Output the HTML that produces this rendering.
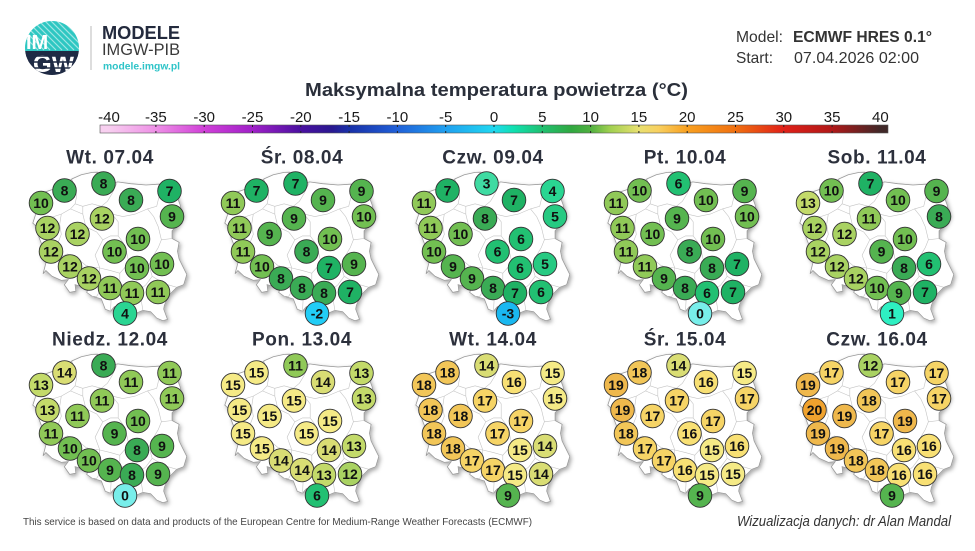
<!DOCTYPE html>
<html><head><meta charset="utf-8"><style>
html,body{margin:0;padding:0;background:#fff;}
svg{display:block;}
svg text{font-family:"Liberation Sans",sans-serif;}
.n text{font-weight:bold;font-size:14px;text-anchor:middle;fill:#111;}
.n circle{stroke:#333;stroke-width:0.9;}
.n text.ttl{font-size:19px;letter-spacing:0.6px;fill:#2c303c;}
.m3{fill:#1ab8f0}.m2{fill:#22cdf6}.t0{fill:#78eeea}.t1{fill:#2eefc2}.t3{fill:#3fdba2}.t4{fill:#2ad592}
.t5{fill:#27ca82}.t6{fill:#22c072}.t7{fill:#1fb264}.t8{fill:#3aab55}.t9{fill:#55b44f}.t10{fill:#72bf52}
.t11{fill:#90c958}.t12{fill:#a9d262}.t13{fill:#c3da6a}.t14{fill:#d9dd74}.t15{fill:#f5ea86}.t16{fill:#f8e074}
.t17{fill:#f6d466}.t18{fill:#f2c658}.t19{fill:#efb84c}.t20{fill:#f0a22e}
.cbl{font-size:15px;text-anchor:middle;fill:#1a1a1a;}
</style></head><body>
<svg width="975" height="551" viewBox="0 0 975 551" xmlns="http://www.w3.org/2000/svg">
<defs>
<filter id="sh" x="-10%" y="-10%" width="130%" height="130%"><feDropShadow dx="1.5" dy="2" stdDeviation="2" flood-color="#000" flood-opacity="0.35"/></filter>
<linearGradient id="cb" gradientUnits="userSpaceOnUse" x1="107.6" y1="0" x2="880.4" y2="0">
<stop offset="0" stop-color="#f8d0f0"/><stop offset="0.0625" stop-color="#ee90e6"/><stop offset="0.125" stop-color="#d040d8"/>
<stop offset="0.1875" stop-color="#a020c8"/><stop offset="0.25" stop-color="#4a10a0"/><stop offset="0.29" stop-color="#2a1890"/>
<stop offset="0.3125" stop-color="#1830a8"/><stop offset="0.375" stop-color="#2060d8"/><stop offset="0.4375" stop-color="#20a0f0"/>
<stop offset="0.5" stop-color="#20d8f0"/><stop offset="0.525" stop-color="#10e0b0"/><stop offset="0.5625" stop-color="#20c070"/>
<stop offset="0.6" stop-color="#30a840"/><stop offset="0.625" stop-color="#50b040"/><stop offset="0.65" stop-color="#a0d050"/>
<stop offset="0.6875" stop-color="#e8e070"/><stop offset="0.7125" stop-color="#f8d060"/><stop offset="0.75" stop-color="#f8a020"/>
<stop offset="0.8125" stop-color="#f07010"/><stop offset="0.875" stop-color="#e02018"/><stop offset="0.9375" stop-color="#b01818"/>
<stop offset="1" stop-color="#402828"/></linearGradient>
<clipPath id="lc"><circle cx="52" cy="48" r="27"/></clipPath>
<g id="pl">
<polygon filter="url(#sh)" fill="#fff" stroke="#9a9a9a" stroke-width="0.8" points="33.5,195.6 44.3,192.2 53.6,189.1 64.3,185.8 72,178.9 81.3,174.7 92.1,172.4 97.5,172.2 100.5,176.8 102.1,183.2 107.5,185 117.5,181.9 130.6,183.7 146,185 158.3,184.2 165.7,184.2 170.6,185.8 176.8,189.6 176.3,194.8 179.8,203.8 182.9,215.3 179.1,223.1 172.1,230.8 172.1,238.5 179.1,242.3 177.5,251.3 179.1,259 182.9,266.7 186.8,274.5 183.7,284.7 176.8,287.3 169.1,295 164.4,305.3 163.7,309.1 167.5,319.4 162.9,320.7 156.7,318.1 150.6,311.7 142.9,310.4 136.7,313 132.1,311.7 127.5,311.7 123.6,316.9 119.8,316.9 119,311.7 114.4,306.6 110.5,311.2 105.2,309.2 101.3,298.9 92.1,296.3 86.7,292.4 88.2,288.6 79.7,286 75.1,284.7 75.9,291.2 69.7,292.4 64.3,284.7 68.2,279.6 61.3,280.4 52,276.3 45.9,270.6 43.1,273.7 45.9,262.9 41.2,256.5 42,244.9 38.9,237.2 39.7,229.5 32.8,223.1 36.6,211.5 35.1,201.2"/>
<g fill="none" stroke="#c4c4c4" stroke-width="0.6">
<polyline points="72,179.4 75.1,188.4 76.7,196.1 75.1,203.8 70.5,208.9 61.3,214.1 53.6,216.6 45.9,221.8 36.6,223.1"/>
<polyline points="61.3,214.1 59.7,224.3 61.3,234.4 58.2,242.3 61.3,250 58.2,257.8 50.5,261.6 45.9,262.9"/>
<polyline points="58.2,257.8 67.4,253.9 76.7,257.8 85.9,265.5 89,266.7 99.8,268"/>
<polyline points="87.5,265.5 82.8,275.7 79.7,283.5 79.7,286"/>
<polyline points="99.8,268 98.2,278.3 101.3,288.6 96.7,296.3 92.1,296.3"/>
<polyline points="99.8,268 110.5,270.6 119.8,273.2 119.8,283.5 114.4,286 111.3,296.3 110.5,311.2"/>
<polyline points="119.8,283.5 130.6,288.6 141.4,288.6 146,284.7 152.2,276.3"/>
<polyline points="141.4,288.6 142.9,291.2 141.4,301.4 142.9,310.4"/>
<polyline points="152.2,276.3 163.7,283.5 176.8,287.3"/>
<polyline points="119.8,273.2 129,262.9 141.4,262.9 149,265.5 152.2,257.8 158.3,247.5 161.4,239.8 172.1,238.5"/>
<polyline points="149,265.5 152.2,276.3"/>
<polyline points="129,262.9 126,250 122.9,242.3 118.2,235.9"/>
<polyline points="99.8,268 95.1,255.2 102.8,239.8 110.5,235.9 118.2,235.9"/>
<polyline points="75.1,203.8 82.8,206.3 82.8,214.1 85.9,226.9 96.7,232 102.8,239.8"/>
<polyline points="82.8,206.3 92.1,203.8 101.3,206.3 112.1,214.1 118.2,221.8 118.2,235.9"/>
<polyline points="70.5,208.9 82.8,214.1"/>
<polyline points="117.5,181.9 112.1,193.5 107.5,201.2 101.3,206.3"/>
<polyline points="112.1,214.1 122.9,216.6 135.2,214.1 147.5,208.9 156.7,206.3 159.8,193.5 161.4,184.2"/>
<polyline points="147.5,208.9 153.7,216.6 158.3,226.9 161.4,239.8"/>
</g>
</g>
</defs>

<!-- Logo -->
<g clip-path="url(#lc)">
<rect x="24" y="20" width="56" height="31" fill="#2ec7c2"/>
<g stroke="#ffffff" stroke-width="1.2" opacity="0.55">
<line x1="20" y1="14" x2="56" y2="50"/><line x1="26" y1="14" x2="62" y2="50"/><line x1="32" y1="14" x2="68" y2="50"/>
<line x1="38" y1="14" x2="74" y2="50"/><line x1="44" y1="14" x2="80" y2="50"/><line x1="50" y1="14" x2="86" y2="50"/>
<line x1="14" y1="14" x2="50" y2="50"/><line x1="8" y1="14" x2="44" y2="50"/><line x1="56" y1="14" x2="92" y2="50"/><line x1="2" y1="14" x2="38" y2="50"/>
</g>
<rect x="24" y="51" width="56" height="27" fill="#1f2a44"/>
<text x="33" y="72" font-size="24" font-weight="bold" fill="#fff">GW</text>
<g stroke="#1f2a44" stroke-width="1.4">
<line x1="24" y1="56" x2="80" y2="56"/><line x1="24" y1="62" x2="80" y2="62"/><line x1="24" y1="68" x2="80" y2="68"/>
</g>
</g>
<text x="26" y="49" font-size="20" font-weight="bold" fill="#fff">IM</text>
<line x1="91" y1="26" x2="91" y2="70" stroke="#bbbbbb" stroke-width="1"/>
<text x="102" y="39" font-size="18" font-weight="bold" fill="#232a3d" textLength="78" lengthAdjust="spacingAndGlyphs">MODELE</text>
<text x="102" y="55" font-size="16.5" fill="#3a3a3a" textLength="78" lengthAdjust="spacingAndGlyphs">IMGW-PIB</text>
<text x="103" y="69.5" font-size="10" font-weight="bold" fill="#2ec4c8" textLength="77" lengthAdjust="spacingAndGlyphs">modele.imgw.pl</text>

<!-- Header right -->
<text x="736" y="42" font-size="16" fill="#333" textLength="47" lengthAdjust="spacingAndGlyphs">Model:</text>
<text x="793" y="42" font-size="16" font-weight="bold" fill="#333" textLength="139" lengthAdjust="spacingAndGlyphs">ECMWF HRES 0.1°</text>
<text x="736" y="63" font-size="16" fill="#333" textLength="37" lengthAdjust="spacingAndGlyphs">Start:</text>
<text x="794" y="63" font-size="16" fill="#333" textLength="125" lengthAdjust="spacingAndGlyphs">07.04.2026 02:00</text>

<!-- Title -->
<text x="305" y="96" font-size="18.5" font-weight="bold" fill="#2a2f3a" textLength="383" lengthAdjust="spacingAndGlyphs">Maksymalna temperatura powietrza (°C)</text>

<!-- Colorbar -->
<rect x="100" y="125" width="788" height="8" fill="url(#cb)" stroke="#555" stroke-width="0.6"/>
<g stroke="#222" stroke-width="1">
<line x1="155.9" y1="125" x2="155.9" y2="127"/><line x1="204.2" y1="125" x2="204.2" y2="127"/><line x1="252.5" y1="125" x2="252.5" y2="127"/>
<line x1="300.8" y1="125" x2="300.8" y2="127"/><line x1="349.1" y1="125" x2="349.1" y2="127"/><line x1="397.4" y1="125" x2="397.4" y2="127"/>
<line x1="445.7" y1="125" x2="445.7" y2="127"/><line x1="494" y1="125" x2="494" y2="127"/><line x1="542.3" y1="125" x2="542.3" y2="127"/>
<line x1="590.6" y1="125" x2="590.6" y2="127"/><line x1="638.9" y1="125" x2="638.9" y2="127"/><line x1="687.2" y1="125" x2="687.2" y2="127"/>
<line x1="735.5" y1="125" x2="735.5" y2="127"/><line x1="783.8" y1="125" x2="783.8" y2="127"/><line x1="832.1" y1="125" x2="832.1" y2="127"/>
<line x1="155.9" y1="131" x2="155.9" y2="133"/><line x1="204.2" y1="131" x2="204.2" y2="133"/><line x1="252.5" y1="131" x2="252.5" y2="133"/>
<line x1="300.8" y1="131" x2="300.8" y2="133"/><line x1="349.1" y1="131" x2="349.1" y2="133"/><line x1="397.4" y1="131" x2="397.4" y2="133"/>
<line x1="445.7" y1="131" x2="445.7" y2="133"/><line x1="494" y1="131" x2="494" y2="133"/><line x1="542.3" y1="131" x2="542.3" y2="133"/>
<line x1="590.6" y1="131" x2="590.6" y2="133"/><line x1="638.9" y1="131" x2="638.9" y2="133"/><line x1="687.2" y1="131" x2="687.2" y2="133"/>
<line x1="735.5" y1="131" x2="735.5" y2="133"/><line x1="783.8" y1="131" x2="783.8" y2="133"/><line x1="832.1" y1="131" x2="832.1" y2="133"/>
</g>
<text class="cbl" x="109" y="122">-40</text><text class="cbl" x="155.9" y="122">-35</text><text class="cbl" x="204.2" y="122">-30</text>
<text class="cbl" x="252.5" y="122">-25</text><text class="cbl" x="300.8" y="122">-20</text><text class="cbl" x="349.1" y="122">-15</text>
<text class="cbl" x="397.4" y="122">-10</text><text class="cbl" x="445.7" y="122">-5</text><text class="cbl" x="494" y="122">0</text>
<text class="cbl" x="542.3" y="122">5</text><text class="cbl" x="590.6" y="122">10</text><text class="cbl" x="638.9" y="122">15</text>
<text class="cbl" x="687.2" y="122">20</text><text class="cbl" x="735.5" y="122">25</text><text class="cbl" x="783.8" y="122">30</text>
<text class="cbl" x="832.1" y="122">35</text><text class="cbl" x="880.4" y="122">40</text>

<!-- Map 1 -->
<g class="n" transform="translate(0,0)">
<use href="#pl"/>
<text class="ttl" x="110" y="163.5">Wt. 07.04</text>
<circle class="t8" cx="64.5" cy="190.5" r="11.8"/><text x="64.5" y="195.5">8</text>
<circle class="t8" cx="103.5" cy="183.5" r="11.8"/><text x="103.5" y="188.5">8</text>
<circle class="t7" cx="169.5" cy="191" r="11.8"/><text x="169.5" y="196">7</text>
<circle class="t10" cx="41" cy="203" r="11.8"/><text x="41" y="208">10</text>
<circle class="t8" cx="131" cy="200" r="11.8"/><text x="131" y="205">8</text>
<circle class="t12" cx="102" cy="218.5" r="11.8"/><text x="102" y="223.5">12</text>
<circle class="t9" cx="172" cy="216.5" r="11.8"/><text x="172" y="221.5">9</text>
<circle class="t12" cx="47.5" cy="228" r="11.8"/><text x="47.5" y="233">12</text>
<circle class="t12" cx="77.5" cy="234" r="11.8"/><text x="77.5" y="239">12</text>
<circle class="t10" cx="138" cy="239" r="11.8"/><text x="138" y="244">10</text>
<circle class="t12" cx="51" cy="251.5" r="11.8"/><text x="51" y="256.5">12</text>
<circle class="t10" cx="114.5" cy="251.5" r="11.8"/><text x="114.5" y="256.5">10</text>
<circle class="t10" cx="162" cy="264" r="11.8"/><text x="162" y="269">10</text>
<circle class="t12" cx="70" cy="266.5" r="11.8"/><text x="70" y="271.5">12</text>
<circle class="t10" cx="137" cy="268" r="11.8"/><text x="137" y="273">10</text>
<circle class="t12" cx="89" cy="278.5" r="11.8"/><text x="89" y="283.5">12</text>
<circle class="t11" cx="110" cy="288" r="11.8"/><text x="110" y="293">11</text>
<circle class="t11" cx="132" cy="293" r="11.8"/><text x="132" y="298">11</text>
<circle class="t11" cx="158" cy="292" r="11.8"/><text x="158" y="297">11</text>
<circle class="t4" cx="125" cy="313.5" r="11.8"/><text x="125" y="318.5">4</text>
</g>

<!-- Map 2 -->
<g class="n" transform="translate(192,0)">
<use href="#pl"/>
<text class="ttl" x="110" y="163.5">Śr. 08.04</text>
<circle class="t7" cx="64.5" cy="190.5" r="11.8"/><text x="64.5" y="195.5">7</text>
<circle class="t7" cx="103.5" cy="183.5" r="11.8"/><text x="103.5" y="188.5">7</text>
<circle class="t9" cx="169.5" cy="191" r="11.8"/><text x="169.5" y="196">9</text>
<circle class="t11" cx="41" cy="203" r="11.8"/><text x="41" y="208">11</text>
<circle class="t9" cx="131" cy="200" r="11.8"/><text x="131" y="205">9</text>
<circle class="t9" cx="102" cy="218.5" r="11.8"/><text x="102" y="223.5">9</text>
<circle class="t10" cx="172" cy="216.5" r="11.8"/><text x="172" y="221.5">10</text>
<circle class="t11" cx="47.5" cy="228" r="11.8"/><text x="47.5" y="233">11</text>
<circle class="t9" cx="77.5" cy="234" r="11.8"/><text x="77.5" y="239">9</text>
<circle class="t10" cx="138" cy="239" r="11.8"/><text x="138" y="244">10</text>
<circle class="t11" cx="51" cy="251.5" r="11.8"/><text x="51" y="256.5">11</text>
<circle class="t8" cx="114.5" cy="251.5" r="11.8"/><text x="114.5" y="256.5">8</text>
<circle class="t9" cx="162" cy="264" r="11.8"/><text x="162" y="269">9</text>
<circle class="t10" cx="70" cy="266.5" r="11.8"/><text x="70" y="271.5">10</text>
<circle class="t7" cx="137" cy="268" r="11.8"/><text x="137" y="273">7</text>
<circle class="t8" cx="89" cy="278.5" r="11.8"/><text x="89" y="283.5">8</text>
<circle class="t8" cx="110" cy="288" r="11.8"/><text x="110" y="293">8</text>
<circle class="t8" cx="132" cy="293" r="11.8"/><text x="132" y="298">8</text>
<circle class="t7" cx="158" cy="292" r="11.8"/><text x="158" y="297">7</text>
<circle class="m2" cx="125" cy="313.5" r="11.8"/><text x="125" y="318.5">-2</text>
</g>

<!-- Map 3 -->
<g class="n" transform="translate(383,0)">
<use href="#pl"/>
<text class="ttl" x="110" y="163.5">Czw. 09.04</text>
<circle class="t7" cx="64.5" cy="190.5" r="11.8"/><text x="64.5" y="195.5">7</text>
<circle class="t3" cx="103.5" cy="183.5" r="11.8"/><text x="103.5" y="188.5">3</text>
<circle class="t4" cx="169.5" cy="191" r="11.8"/><text x="169.5" y="196">4</text>
<circle class="t11" cx="41" cy="203" r="11.8"/><text x="41" y="208">11</text>
<circle class="t7" cx="131" cy="200" r="11.8"/><text x="131" y="205">7</text>
<circle class="t8" cx="102" cy="218.5" r="11.8"/><text x="102" y="223.5">8</text>
<circle class="t5" cx="172" cy="216.5" r="11.8"/><text x="172" y="221.5">5</text>
<circle class="t11" cx="47.5" cy="228" r="11.8"/><text x="47.5" y="233">11</text>
<circle class="t10" cx="77.5" cy="234" r="11.8"/><text x="77.5" y="239">10</text>
<circle class="t6" cx="138" cy="239" r="11.8"/><text x="138" y="244">6</text>
<circle class="t10" cx="51" cy="251.5" r="11.8"/><text x="51" y="256.5">10</text>
<circle class="t6" cx="114.5" cy="251.5" r="11.8"/><text x="114.5" y="256.5">6</text>
<circle class="t5" cx="162" cy="264" r="11.8"/><text x="162" y="269">5</text>
<circle class="t9" cx="70" cy="266.5" r="11.8"/><text x="70" y="271.5">9</text>
<circle class="t6" cx="137" cy="268" r="11.8"/><text x="137" y="273">6</text>
<circle class="t9" cx="89" cy="278.5" r="11.8"/><text x="89" y="283.5">9</text>
<circle class="t8" cx="110" cy="288" r="11.8"/><text x="110" y="293">8</text>
<circle class="t7" cx="132" cy="293" r="11.8"/><text x="132" y="298">7</text>
<circle class="t6" cx="158" cy="292" r="11.8"/><text x="158" y="297">6</text>
<circle class="m3" cx="125" cy="313.5" r="11.8"/><text x="125" y="318.5">-3</text>
</g>

<!-- Map 4 -->
<g class="n" transform="translate(575,0)">
<use href="#pl"/>
<text class="ttl" x="110" y="163.5">Pt. 10.04</text>
<circle class="t10" cx="64.5" cy="190.5" r="11.8"/><text x="64.5" y="195.5">10</text>
<circle class="t6" cx="103.5" cy="183.5" r="11.8"/><text x="103.5" y="188.5">6</text>
<circle class="t9" cx="169.5" cy="191" r="11.8"/><text x="169.5" y="196">9</text>
<circle class="t11" cx="41" cy="203" r="11.8"/><text x="41" y="208">11</text>
<circle class="t10" cx="131" cy="200" r="11.8"/><text x="131" y="205">10</text>
<circle class="t9" cx="102" cy="218.5" r="11.8"/><text x="102" y="223.5">9</text>
<circle class="t10" cx="172" cy="216.5" r="11.8"/><text x="172" y="221.5">10</text>
<circle class="t11" cx="47.5" cy="228" r="11.8"/><text x="47.5" y="233">11</text>
<circle class="t10" cx="77.5" cy="234" r="11.8"/><text x="77.5" y="239">10</text>
<circle class="t10" cx="138" cy="239" r="11.8"/><text x="138" y="244">10</text>
<circle class="t11" cx="51" cy="251.5" r="11.8"/><text x="51" y="256.5">11</text>
<circle class="t8" cx="114.5" cy="251.5" r="11.8"/><text x="114.5" y="256.5">8</text>
<circle class="t7" cx="162" cy="264" r="11.8"/><text x="162" y="269">7</text>
<circle class="t11" cx="70" cy="266.5" r="11.8"/><text x="70" y="271.5">11</text>
<circle class="t8" cx="137" cy="268" r="11.8"/><text x="137" y="273">8</text>
<circle class="t9" cx="89" cy="278.5" r="11.8"/><text x="89" y="283.5">9</text>
<circle class="t8" cx="110" cy="288" r="11.8"/><text x="110" y="293">8</text>
<circle class="t6" cx="132" cy="293" r="11.8"/><text x="132" y="298">6</text>
<circle class="t7" cx="158" cy="292" r="11.8"/><text x="158" y="297">7</text>
<circle class="t0" cx="125" cy="313.5" r="11.8"/><text x="125" y="318.5">0</text>
</g>

<!-- Map 5 -->
<g class="n" transform="translate(767,0)">
<use href="#pl"/>
<text class="ttl" x="110" y="163.5">Sob. 11.04</text>
<circle class="t10" cx="64.5" cy="190.5" r="11.8"/><text x="64.5" y="195.5">10</text>
<circle class="t7" cx="103.5" cy="183.5" r="11.8"/><text x="103.5" y="188.5">7</text>
<circle class="t9" cx="169.5" cy="191" r="11.8"/><text x="169.5" y="196">9</text>
<circle class="t13" cx="41" cy="203" r="11.8"/><text x="41" y="208">13</text>
<circle class="t10" cx="131" cy="200" r="11.8"/><text x="131" y="205">10</text>
<circle class="t11" cx="102" cy="218.5" r="11.8"/><text x="102" y="223.5">11</text>
<circle class="t8" cx="172" cy="216.5" r="11.8"/><text x="172" y="221.5">8</text>
<circle class="t12" cx="47.5" cy="228" r="11.8"/><text x="47.5" y="233">12</text>
<circle class="t12" cx="77.5" cy="234" r="11.8"/><text x="77.5" y="239">12</text>
<circle class="t10" cx="138" cy="239" r="11.8"/><text x="138" y="244">10</text>
<circle class="t12" cx="51" cy="251.5" r="11.8"/><text x="51" y="256.5">12</text>
<circle class="t9" cx="114.5" cy="251.5" r="11.8"/><text x="114.5" y="256.5">9</text>
<circle class="t6" cx="162" cy="264" r="11.8"/><text x="162" y="269">6</text>
<circle class="t12" cx="70" cy="266.5" r="11.8"/><text x="70" y="271.5">12</text>
<circle class="t8" cx="137" cy="268" r="11.8"/><text x="137" y="273">8</text>
<circle class="t12" cx="89" cy="278.5" r="11.8"/><text x="89" y="283.5">12</text>
<circle class="t10" cx="110" cy="288" r="11.8"/><text x="110" y="293">10</text>
<circle class="t9" cx="132" cy="293" r="11.8"/><text x="132" y="298">9</text>
<circle class="t7" cx="158" cy="292" r="11.8"/><text x="158" y="297">7</text>
<circle class="t1" cx="125" cy="313.5" r="11.8"/><text x="125" y="318.5">1</text>
</g>

<!-- Map 6 -->
<g class="n" transform="translate(0,182)">
<use href="#pl"/>
<text class="ttl" x="110" y="163.5">Niedz. 12.04</text>
<circle class="t14" cx="64.5" cy="190.5" r="11.8"/><text x="64.5" y="195.5">14</text>
<circle class="t8" cx="103.5" cy="183.5" r="11.8"/><text x="103.5" y="188.5">8</text>
<circle class="t11" cx="169.5" cy="191" r="11.8"/><text x="169.5" y="196">11</text>
<circle class="t13" cx="41" cy="203" r="11.8"/><text x="41" y="208">13</text>
<circle class="t11" cx="131" cy="200" r="11.8"/><text x="131" y="205">11</text>
<circle class="t11" cx="102" cy="218.5" r="11.8"/><text x="102" y="223.5">11</text>
<circle class="t11" cx="172" cy="216.5" r="11.8"/><text x="172" y="221.5">11</text>
<circle class="t13" cx="47.5" cy="228" r="11.8"/><text x="47.5" y="233">13</text>
<circle class="t11" cx="77.5" cy="234" r="11.8"/><text x="77.5" y="239">11</text>
<circle class="t10" cx="138" cy="239" r="11.8"/><text x="138" y="244">10</text>
<circle class="t11" cx="51" cy="251.5" r="11.8"/><text x="51" y="256.5">11</text>
<circle class="t9" cx="114.5" cy="251.5" r="11.8"/><text x="114.5" y="256.5">9</text>
<circle class="t9" cx="162" cy="264" r="11.8"/><text x="162" y="269">9</text>
<circle class="t10" cx="70" cy="266.5" r="11.8"/><text x="70" y="271.5">10</text>
<circle class="t8" cx="137" cy="268" r="11.8"/><text x="137" y="273">8</text>
<circle class="t10" cx="89" cy="278.5" r="11.8"/><text x="89" y="283.5">10</text>
<circle class="t9" cx="110" cy="288" r="11.8"/><text x="110" y="293">9</text>
<circle class="t8" cx="132" cy="293" r="11.8"/><text x="132" y="298">8</text>
<circle class="t9" cx="158" cy="292" r="11.8"/><text x="158" y="297">9</text>
<circle class="t0" cx="125" cy="313.5" r="11.8"/><text x="125" y="318.5">0</text>
</g>

<!-- Map 7 -->
<g class="n" transform="translate(192,182)">
<use href="#pl"/>
<text class="ttl" x="110" y="163.5">Pon. 13.04</text>
<circle class="t15" cx="64.5" cy="190.5" r="11.8"/><text x="64.5" y="195.5">15</text>
<circle class="t11" cx="103.5" cy="183.5" r="11.8"/><text x="103.5" y="188.5">11</text>
<circle class="t13" cx="169.5" cy="191" r="11.8"/><text x="169.5" y="196">13</text>
<circle class="t15" cx="41" cy="203" r="11.8"/><text x="41" y="208">15</text>
<circle class="t14" cx="131" cy="200" r="11.8"/><text x="131" y="205">14</text>
<circle class="t15" cx="102" cy="218.5" r="11.8"/><text x="102" y="223.5">15</text>
<circle class="t13" cx="172" cy="216.5" r="11.8"/><text x="172" y="221.5">13</text>
<circle class="t15" cx="47.5" cy="228" r="11.8"/><text x="47.5" y="233">15</text>
<circle class="t15" cx="77.5" cy="234" r="11.8"/><text x="77.5" y="239">15</text>
<circle class="t15" cx="138" cy="239" r="11.8"/><text x="138" y="244">15</text>
<circle class="t15" cx="51" cy="251.5" r="11.8"/><text x="51" y="256.5">15</text>
<circle class="t15" cx="114.5" cy="251.5" r="11.8"/><text x="114.5" y="256.5">15</text>
<circle class="t13" cx="162" cy="264" r="11.8"/><text x="162" y="269">13</text>
<circle class="t15" cx="70" cy="266.5" r="11.8"/><text x="70" y="271.5">15</text>
<circle class="t14" cx="137" cy="268" r="11.8"/><text x="137" y="273">14</text>
<circle class="t14" cx="89" cy="278.5" r="11.8"/><text x="89" y="283.5">14</text>
<circle class="t14" cx="110" cy="288" r="11.8"/><text x="110" y="293">14</text>
<circle class="t13" cx="132" cy="293" r="11.8"/><text x="132" y="298">13</text>
<circle class="t12" cx="158" cy="292" r="11.8"/><text x="158" y="297">12</text>
<circle class="t6" cx="125" cy="313.5" r="11.8"/><text x="125" y="318.5">6</text>
</g>

<!-- Map 8 -->
<g class="n" transform="translate(383,182)">
<use href="#pl"/>
<text class="ttl" x="110" y="163.5">Wt. 14.04</text>
<circle class="t18" cx="64.5" cy="190.5" r="11.8"/><text x="64.5" y="195.5">18</text>
<circle class="t14" cx="103.5" cy="183.5" r="11.8"/><text x="103.5" y="188.5">14</text>
<circle class="t15" cx="169.5" cy="191" r="11.8"/><text x="169.5" y="196">15</text>
<circle class="t18" cx="41" cy="203" r="11.8"/><text x="41" y="208">18</text>
<circle class="t16" cx="131" cy="200" r="11.8"/><text x="131" y="205">16</text>
<circle class="t17" cx="102" cy="218.5" r="11.8"/><text x="102" y="223.5">17</text>
<circle class="t15" cx="172" cy="216.5" r="11.8"/><text x="172" y="221.5">15</text>
<circle class="t18" cx="47.5" cy="228" r="11.8"/><text x="47.5" y="233">18</text>
<circle class="t18" cx="77.5" cy="234" r="11.8"/><text x="77.5" y="239">18</text>
<circle class="t17" cx="138" cy="239" r="11.8"/><text x="138" y="244">17</text>
<circle class="t18" cx="51" cy="251.5" r="11.8"/><text x="51" y="256.5">18</text>
<circle class="t17" cx="114.5" cy="251.5" r="11.8"/><text x="114.5" y="256.5">17</text>
<circle class="t14" cx="162" cy="264" r="11.8"/><text x="162" y="269">14</text>
<circle class="t18" cx="70" cy="266.5" r="11.8"/><text x="70" y="271.5">18</text>
<circle class="t15" cx="137" cy="268" r="11.8"/><text x="137" y="273">15</text>
<circle class="t17" cx="89" cy="278.5" r="11.8"/><text x="89" y="283.5">17</text>
<circle class="t17" cx="110" cy="288" r="11.8"/><text x="110" y="293">17</text>
<circle class="t15" cx="132" cy="293" r="11.8"/><text x="132" y="298">15</text>
<circle class="t14" cx="158" cy="292" r="11.8"/><text x="158" y="297">14</text>
<circle class="t9" cx="125" cy="313.5" r="11.8"/><text x="125" y="318.5">9</text>
</g>

<!-- Map 9 -->
<g class="n" transform="translate(575,182)">
<use href="#pl"/>
<text class="ttl" x="110" y="163.5">Śr. 15.04</text>
<circle class="t18" cx="64.5" cy="190.5" r="11.8"/><text x="64.5" y="195.5">18</text>
<circle class="t14" cx="103.5" cy="183.5" r="11.8"/><text x="103.5" y="188.5">14</text>
<circle class="t15" cx="169.5" cy="191" r="11.8"/><text x="169.5" y="196">15</text>
<circle class="t19" cx="41" cy="203" r="11.8"/><text x="41" y="208">19</text>
<circle class="t16" cx="131" cy="200" r="11.8"/><text x="131" y="205">16</text>
<circle class="t17" cx="102" cy="218.5" r="11.8"/><text x="102" y="223.5">17</text>
<circle class="t17" cx="172" cy="216.5" r="11.8"/><text x="172" y="221.5">17</text>
<circle class="t19" cx="47.5" cy="228" r="11.8"/><text x="47.5" y="233">19</text>
<circle class="t17" cx="77.5" cy="234" r="11.8"/><text x="77.5" y="239">17</text>
<circle class="t17" cx="138" cy="239" r="11.8"/><text x="138" y="244">17</text>
<circle class="t18" cx="51" cy="251.5" r="11.8"/><text x="51" y="256.5">18</text>
<circle class="t16" cx="114.5" cy="251.5" r="11.8"/><text x="114.5" y="256.5">16</text>
<circle class="t16" cx="162" cy="264" r="11.8"/><text x="162" y="269">16</text>
<circle class="t17" cx="70" cy="266.5" r="11.8"/><text x="70" y="271.5">17</text>
<circle class="t15" cx="137" cy="268" r="11.8"/><text x="137" y="273">15</text>
<circle class="t17" cx="89" cy="278.5" r="11.8"/><text x="89" y="283.5">17</text>
<circle class="t16" cx="110" cy="288" r="11.8"/><text x="110" y="293">16</text>
<circle class="t15" cx="132" cy="293" r="11.8"/><text x="132" y="298">15</text>
<circle class="t15" cx="158" cy="292" r="11.8"/><text x="158" y="297">15</text>
<circle class="t9" cx="125" cy="313.5" r="11.8"/><text x="125" y="318.5">9</text>
</g>

<!-- Map 10 -->
<g class="n" transform="translate(767,182)">
<use href="#pl"/>
<text class="ttl" x="110" y="163.5">Czw. 16.04</text>
<circle class="t17" cx="64.5" cy="190.5" r="11.8"/><text x="64.5" y="195.5">17</text>
<circle class="t12" cx="103.5" cy="183.5" r="11.8"/><text x="103.5" y="188.5">12</text>
<circle class="t17" cx="169.5" cy="191" r="11.8"/><text x="169.5" y="196">17</text>
<circle class="t19" cx="41" cy="203" r="11.8"/><text x="41" y="208">19</text>
<circle class="t17" cx="131" cy="200" r="11.8"/><text x="131" y="205">17</text>
<circle class="t18" cx="102" cy="218.5" r="11.8"/><text x="102" y="223.5">18</text>
<circle class="t17" cx="172" cy="216.5" r="11.8"/><text x="172" y="221.5">17</text>
<circle class="t20" cx="47.5" cy="228" r="11.8"/><text x="47.5" y="233">20</text>
<circle class="t19" cx="77.5" cy="234" r="11.8"/><text x="77.5" y="239">19</text>
<circle class="t19" cx="138" cy="239" r="11.8"/><text x="138" y="244">19</text>
<circle class="t19" cx="51" cy="251.5" r="11.8"/><text x="51" y="256.5">19</text>
<circle class="t17" cx="114.5" cy="251.5" r="11.8"/><text x="114.5" y="256.5">17</text>
<circle class="t16" cx="162" cy="264" r="11.8"/><text x="162" y="269">16</text>
<circle class="t19" cx="70" cy="266.5" r="11.8"/><text x="70" y="271.5">19</text>
<circle class="t16" cx="137" cy="268" r="11.8"/><text x="137" y="273">16</text>
<circle class="t18" cx="89" cy="278.5" r="11.8"/><text x="89" y="283.5">18</text>
<circle class="t18" cx="110" cy="288" r="11.8"/><text x="110" y="293">18</text>
<circle class="t16" cx="132" cy="293" r="11.8"/><text x="132" y="298">16</text>
<circle class="t16" cx="158" cy="292" r="11.8"/><text x="158" y="297">16</text>
<circle class="t9" cx="125" cy="313.5" r="11.8"/><text x="125" y="318.5">9</text>
</g>

<!-- Footer -->
<text x="23" y="525" font-size="10.5" fill="#444" textLength="509" lengthAdjust="spacingAndGlyphs">This service is based on data and products of the European Centre for Medium-Range Weather Forecasts (ECMWF)</text>
<text x="737" y="526" font-size="14.5" font-style="italic" fill="#333" textLength="214" lengthAdjust="spacingAndGlyphs">Wizualizacja danych: dr Alan Mandal</text>
</svg>
</body></html>
